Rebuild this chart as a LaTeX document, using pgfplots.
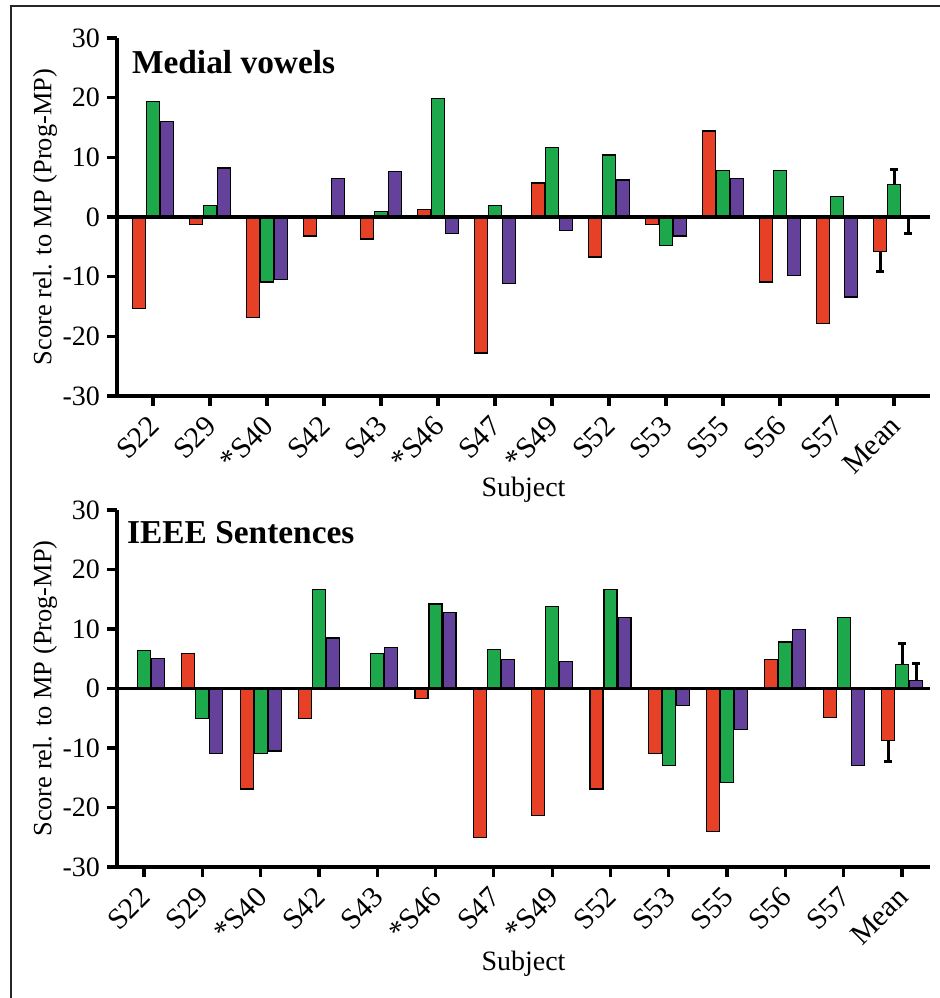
\documentclass[border=0pt]{standalone}
\usepackage{pgfplots}
\pgfplotsset{compat=1.18}
\usepackage{fontspec}
\setmainfont{Liberation Serif}
\definecolor{cred}{RGB}{230,64,38}
\definecolor{cgreen}{RGB}{30,168,76}
\definecolor{cpurple}{RGB}{100,65,155}

\pgfplotsset{
 mystyle/.style={
  scale only axis, width=406.5pt,
  ymin=-30, ymax=30, ytick={-30,-20,...,30},
  xtick={0,...,13},
  xticklabels={S22,S29,*S40,S42,S43,*S46,S47,*S49,S52,S53,S55,S56,S57,Mean},
  axis x line=bottom, axis y line=left,
  axis line style={-, line width=1.6pt},
  tick align=outside, major tick length=5pt,
  tick style={line width=1.6pt, black},
  /pgf/number format/assume math mode=true,
  ticklabel style={font=\fontsize{14}{16}\selectfont},
  xticklabel style={font=\fontsize{14.8}{16}\selectfont, xshift=-3pt, yshift=-2.5pt, rotate=45, anchor=north east, inner sep=1pt},
  ylabel={Score rel. to MP (Prog-MP)},
  xlabel={Subject},
  label style={font=\fontsize{14}{16}\selectfont},
  ylabel style={font=\fontsize{13.2}{15}\selectfont, at={(axis description cs:-0.0886,0.5)}, anchor=center},
  xlabel style={at={(axis description cs:0.5,0)}, anchor=center, yshift=-47pt},
  clip=false,
 },
 bbase/.style={ybar, draw=black, line width=0.6pt, bar width=#1, bar shift=0},
 errs/.style={error bars/.cd, y dir=#1, y explicit,
   error bar style={line width=1.5pt, black},
   error mark options={rotate=90, mark size=2pt, line width=1.5pt, black}},
}

\begin{document}
\begin{tikzpicture}
\useasboundingbox (0,0) rectangle (470pt,499pt);
\draw[line width=1pt, black!85] (5.5pt,0) -- (5.5pt,495.75pt) -- (470pt,495.75pt);

% ---------- Medial vowels ----------
\begin{axis}[mystyle, at={(58.5pt,301pt)}, anchor=south west, height=179pt,
  xmin=-0.632, xmax=13.63]
\addplot[bbase=0.228, fill=cred] coordinates {
 (-0.246,-15.3) (0.754,-1.3) (1.754,-16.9) (2.754,-3.2) (3.754,-3.7) (4.754,1.2) (5.754,-22.8)
 (6.754,5.7) (7.754,-6.7) (8.754,-1.3) (9.754,14.4) (10.754,-10.9) (11.754,-17.8)};
\addplot[bbase=0.228, fill=cgreen] coordinates {
 (0,19.3) (1,1.9) (2,-10.9) (4,0.9) (5,19.9) (6,1.9)
 (7,11.6) (8,10.4) (9,-4.8) (10,7.8) (11,7.8) (12,3.5)};
\addplot[bbase=0.228, fill=cpurple] coordinates {
 (0.246,16.0) (1.246,8.2) (2.246,-10.5) (3.246,6.5) (4.246,7.6) (5.246,-2.8) (6.246,-11.2)
 (7.246,-2.3) (8.246,6.2) (9.246,-3.2) (10.246,6.5) (11.246,-9.8) (12.246,-13.4)};
\addplot[bbase=0.228, fill=cred, errs=minus] coordinates {(12.754,-5.8) +- (0,3.4)};
\addplot[bbase=0.228, fill=cgreen, errs=plus] coordinates {(13,5.4) +- (0,2.5)};
\addplot[bbase=0.228, fill=cpurple, errs=minus] coordinates {(13.246,-0.2) +- (0,2.6)};
\addplot[black, line width=1.6pt, no marks] coordinates {(-0.632,0) (13.63,0)};
\node[anchor=west, font=\bfseries\fontsize{16.7}{19}\selectfont, inner sep=0pt] at (rel axis cs:0.018,0.933) {Medial vowels};
\end{axis}

% ---------- IEEE Sentences ----------
\begin{axis}[mystyle, at={(58.5pt,65.5pt)}, anchor=south west, height=178.5pt,
  xmin=-0.463, xmax=13.48, xlabel style={yshift=-1.5pt}]
\addplot[bbase=0.223, fill=cred] coordinates {
 (0.76,5.9) (1.76,-16.9) (2.76,-5.0) (4.76,-1.7) (5.76,-25.0)
 (6.76,-21.4) (7.76,-16.9) (8.76,-10.9) (9.76,-24.0) (10.76,4.9) (11.76,-4.9)};
\addplot[bbase=0.223, fill=cgreen] coordinates {
 (0,6.4) (1,-5.0) (2,-10.9) (3,16.6) (4,5.9) (5,14.2) (6,6.5)
 (7,13.8) (8,16.6) (9,-12.9) (10,-15.8) (11,7.8) (12,11.9)};
\addplot[bbase=0.223, fill=cpurple] coordinates {
 (0.24,5.0) (1.24,-10.9) (2.24,-10.5) (3.24,8.5) (4.24,6.9) (5.24,12.8) (6.24,4.9)
 (7.24,4.6) (8.24,11.9) (9.24,-2.9) (10.24,-6.9) (11.24,9.9) (12.24,-12.9)};
\addplot[bbase=0.223, fill=cred, errs=minus] coordinates {(12.76,-8.8) +- (0,3.4)};
\addplot[bbase=0.223, fill=cgreen, errs=plus] coordinates {(13,4.0) +- (0,3.5)};
\addplot[bbase=0.223, fill=cpurple, errs=plus] coordinates {(13.24,1.4) +- (0,2.8)};
\addplot[black, line width=1.6pt, no marks] coordinates {(-0.463,0) (13.48,0)};
\node[anchor=west, font=\bfseries\fontsize{16.7}{19}\selectfont, inner sep=0pt] at (rel axis cs:0.012,0.938) {IEEE Sentences};
\end{axis}
\end{tikzpicture}
\end{document}
